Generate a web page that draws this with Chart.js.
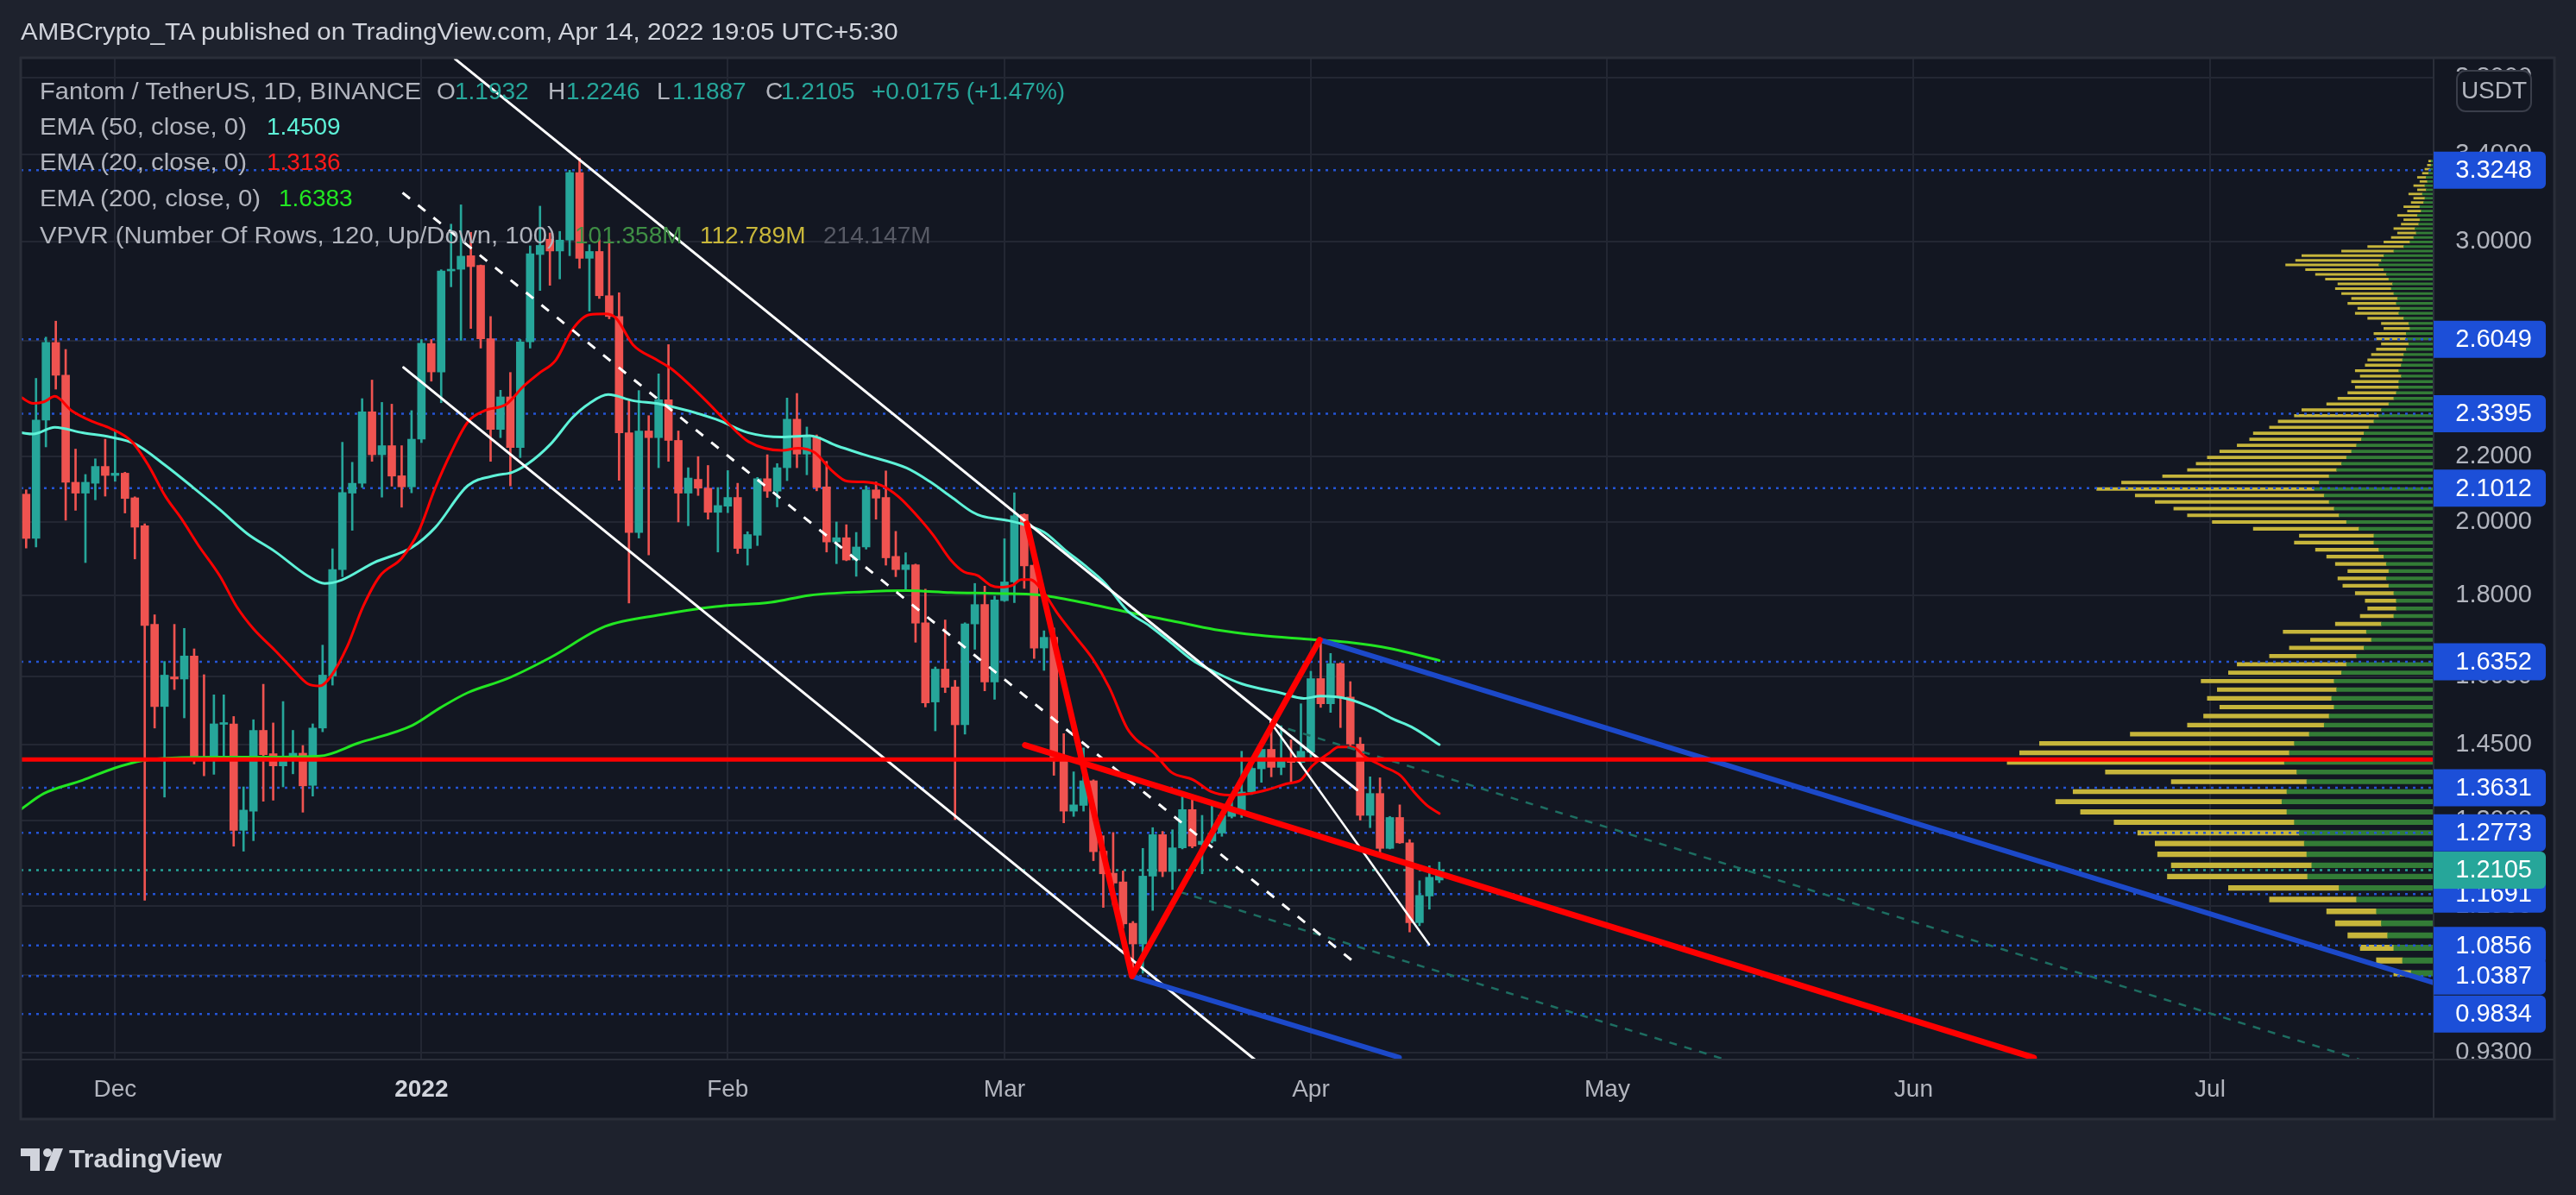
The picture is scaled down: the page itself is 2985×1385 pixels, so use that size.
<!DOCTYPE html>
<html>
<head>
<meta charset="utf-8">
<script src="https://cdn.jsdelivr.net/npm/chart.js@4.4.1/dist/chart.umd.min.js"></script>
<style>
html, body { margin: 0; padding: 0; background: #1e222d; }
#wrap { position: relative; width: 2985px; height: 1385px; overflow: hidden; font-family: "Liberation Sans", Arial, sans-serif; }
#wrap canvas { position: absolute; left: 0; top: 0; }
.t { position: absolute; white-space: nowrap; line-height: 36px; height: 36px; font-size: 28px; color: #b2b5be; transform-origin: left center; z-index: 2; }
</style>
</head>
<body>
<div id="wrap">
<canvas id="c" width="2985" height="1385"></canvas>

<div class="t" style="left:24px;top:19px;font-size:27px;color:#d1d4dc" data-w="1017">AMBCrypto_TA published on TradingView.com, Apr 14, 2022 19:05 UTC+5:30</div>

<div class="t" style="left:46px;top:88px" data-w="442">Fantom / TetherUS, 1D, BINANCE</div>
<div class="t" style="left:506px;top:88px">O</div>
<div class="t" style="left:527px;top:88px;color:#26a69a">1.1932</div>
<div class="t" style="left:635px;top:88px">H</div>
<div class="t" style="left:656px;top:88px;color:#26a69a">1.2246</div>
<div class="t" style="left:761px;top:88px">L</div>
<div class="t" style="left:779px;top:88px;color:#26a69a">1.1887</div>
<div class="t" style="left:887px;top:88px">C</div>
<div class="t" style="left:905px;top:88px;color:#26a69a">1.2105</div>
<div class="t" style="left:1010px;top:88px;color:#26a69a">+0.0175 (+1.47%)</div>

<div class="t" style="left:46px;top:129px" data-w="240">EMA (50, close, 0)</div>
<div class="t" style="left:309px;top:129px;color:#5ef2d8">1.4509</div>
<div class="t" style="left:46px;top:170px" data-w="240">EMA (20, close, 0)</div>
<div class="t" style="left:309px;top:170px;color:#ff1a1a">1.3136</div>
<div class="t" style="left:46px;top:212px" data-w="256">EMA (200, close, 0)</div>
<div class="t" style="left:323px;top:212px;color:#22e622">1.6383</div>
<div class="t" style="left:46px;top:255px" data-w="598">VPVR (Number Of Rows, 120, Up/Down, 100)</div>
<div class="t" style="left:666px;top:255px;color:#3f8f45">101.358M</div>
<div class="t" style="left:811px;top:255px;color:#c9b73a">112.789M</div>
<div class="t" style="left:954px;top:255px;color:#575a65">214.147M</div>

<div class="t" style="left:80px;top:1325px;font-size:30px;font-weight:bold;color:#d1d4dc" data-w="177">TradingView</div>
</div>

<script>
// day 0 = Dec 1, 2021; first candle is Nov 22, 2021
const firstDay = -9

const opens = [2.083,1.954,2.318,2.593,2.473,2.119,2.086,2.116,2.168,2.140,
  2.147,2.072,1.990,1.726,1.533,1.600,1.595,1.649,1.422,1.418,
  1.494,1.495,1.282,1.318,1.481,1.432,1.407,1.424,1.433,1.368,
  1.486,1.602,1.868,2.086,2.116,2.346,2.205,2.234,2.139,2.105,
  2.255,2.589,2.485,2.875,2.882,2.939,2.898,2.607,2.287,2.397,
  2.228,2.595,2.944,3.010,2.959,3.006,3.314,2.928,2.957,2.774,
  2.692,2.276,1.971,2.282,2.260,2.387,2.251,2.086,2.128,2.101,
  2.029,2.047,2.073,1.926,1.963,2.130,2.092,2.164,2.321,2.207,
  2.262,2.105,1.944,1.956,1.894,1.930,2.096,2.073,1.904,1.868,
  1.881,1.730,1.543,1.618,1.577,1.493,1.727,1.776,1.588,1.786,
  1.835,2.023,1.880,1.668,1.694,1.418,1.318,1.329,1.377,1.244,
  1.205,1.190,1.121,1.088,1.200,1.274,1.208,1.250,1.321,1.256,
  1.262,1.277,1.308,1.320,1.355,1.401,1.441,1.404,1.420,1.414,
  1.435,1.596,1.539,1.631,1.554,1.452,1.310,1.352,1.249,1.306,
  1.259,1.122,1.166,1.1932]
const highs = [2.096,2.462,2.613,2.674,2.567,2.223,2.143,2.192,2.255,2.284,
  2.150,2.075,1.996,1.750,1.636,1.726,1.716,1.666,1.605,1.559,
  1.559,1.511,1.365,1.504,1.583,1.497,1.544,1.481,1.449,1.495,
  1.675,1.925,2.245,2.181,2.391,2.456,2.378,2.372,2.234,2.350,
  2.604,2.604,2.880,3.076,3.163,3.040,2.900,2.692,2.420,2.483,
  2.604,2.981,3.157,3.037,3.044,3.325,3.384,2.986,3.008,3.008,
  2.786,2.389,2.419,2.333,2.478,2.585,2.282,2.164,2.199,2.171,
  2.103,2.155,2.116,1.973,2.134,2.205,2.177,2.393,2.409,2.295,
  2.269,2.184,2.001,1.993,1.971,2.108,2.120,2.154,1.974,1.914,
  1.883,1.816,1.623,1.737,1.592,1.730,1.831,1.824,1.798,1.953,
  2.087,2.025,1.882,1.710,1.717,1.474,1.395,1.444,1.379,1.272,
  1.278,1.209,1.124,1.249,1.287,1.280,1.283,1.348,1.348,1.310,
  1.332,1.316,1.352,1.437,1.414,1.441,1.494,1.491,1.461,1.539,
  1.613,1.682,1.655,1.633,1.589,1.466,1.385,1.383,1.308,1.330,
  1.265,1.192,1.218,1.2246]
const lows = [1.927,1.930,2.230,2.424,2.006,2.035,1.887,2.066,2.077,2.122,
  2.027,1.897,1.159,1.486,1.345,1.571,1.508,1.411,1.387,1.390,
  1.418,1.253,1.244,1.263,1.337,1.339,1.365,1.391,1.316,1.347,
  1.478,1.581,1.849,1.977,2.103,2.184,2.074,2.107,2.044,2.087,
  2.244,2.452,2.377,2.810,2.601,2.646,2.572,2.184,2.260,2.108,
  2.196,2.572,2.795,2.816,2.842,2.939,2.886,2.713,2.763,2.683,
  2.125,1.780,1.955,1.908,2.164,2.184,2.001,1.990,2.079,2.009,
  1.916,2.028,1.912,1.880,1.934,2.073,2.045,2.124,2.164,2.142,
  2.093,1.916,1.884,1.892,1.850,1.924,2.009,1.880,1.849,1.816,
  1.682,1.532,1.480,1.564,1.302,1.473,1.665,1.568,1.549,1.784,
  1.781,1.818,1.643,1.615,1.388,1.296,1.308,1.318,1.227,1.147,
  1.151,1.113,1.038,1.043,1.142,1.199,1.177,1.248,1.250,1.204,
  1.259,1.271,1.305,1.306,1.350,1.374,1.385,1.389,1.372,1.410,
  1.421,1.531,1.520,1.487,1.446,1.301,1.287,1.240,1.248,1.258,
  1.107,1.117,1.144,1.1887]
const closes = [1.954,2.318,2.593,2.473,2.119,2.086,2.119,2.168,2.140,2.147,
  2.070,1.986,1.723,1.533,1.604,1.595,1.649,1.420,1.418,1.495,
  1.497,1.282,1.320,1.481,1.430,1.407,1.427,1.433,1.367,1.486,
  1.604,1.868,2.088,2.116,2.346,2.205,2.234,2.138,2.105,2.255,
  2.590,2.485,2.875,2.880,2.937,2.893,2.607,2.287,2.397,2.228,
  2.595,2.947,2.983,2.959,3.006,3.314,2.928,2.957,2.774,2.692,
  2.276,1.971,2.282,2.260,2.387,2.251,2.086,2.132,2.101,2.029,
  2.049,2.073,1.926,1.965,2.130,2.092,2.164,2.321,2.207,2.262,
  2.103,1.944,1.956,1.894,1.930,2.096,2.071,1.900,1.868,1.881,
  1.729,1.541,1.618,1.576,1.493,1.727,1.776,1.588,1.788,1.835,
  2.019,1.878,1.668,1.694,1.417,1.318,1.330,1.377,1.243,1.204,
  1.188,1.120,1.088,1.200,1.274,1.208,1.250,1.321,1.253,1.262,
  1.277,1.310,1.321,1.355,1.402,1.441,1.404,1.420,1.414,1.437,
  1.596,1.539,1.631,1.554,1.452,1.310,1.352,1.249,1.306,1.259,
  1.122,1.167,1.198,1.2105]

// EMA readings [day, value]
const ema20 = [[-9.5,2.395],[-8.3,2.375],[-7.2,2.38],[-6.1,2.399],[-4.4,2.35],[-2.2,2.312],[-0.5,2.291],[1.7,2.247],[3.4,2.17],[5.1,2.076],[6.7,2.011],[8.4,1.936],[10.6,1.851],[12.3,1.771],[14,1.715],[16.2,1.662],[17.9,1.62],[19.5,1.584],[20.7,1.579],[21.8,1.6],[23.5,1.672],[25.1,1.771],[26.8,1.851],[29,1.899],[30.7,1.973],[32.4,2.102],[34,2.212],[35.7,2.312],[37.4,2.35],[39.6,2.372],[41.3,2.433],[42.9,2.48],[44.6,2.528],[46.3,2.643],[48,2.699],[49.6,2.702],[50.7,2.685],[52.4,2.585],[54.7,2.531],[56.3,2.496],[59.7,2.387],[61.9,2.312],[64.1,2.247],[67.5,2.219],[69.1,2.226],[70.8,2.212],[72.5,2.156],[74.1,2.122],[75.7,2.12],[77.5,2.11],[79.3,2.075],[81,2.024],[82.8,1.963],[84.6,1.893],[85.9,1.862],[87.3,1.852],[88.6,1.826],[89.5,1.821],[90.8,1.826],[91.7,1.841],[92.6,1.841],[94,1.806],[95.3,1.756],[97.1,1.698],[98.9,1.643],[100.6,1.576],[102.4,1.486],[103.3,1.462],[105.1,1.434],[106.9,1.394],[109.1,1.379],[110.9,1.356],[112.7,1.349],[114.9,1.352],[116.7,1.36],[118.5,1.371],[120,1.379],[121.1,1.406],[122.9,1.434],[123.8,1.446],[125.2,1.446],[126.5,1.426],[128.3,1.406],[130.1,1.387],[131.4,1.356],[132.7,1.33],[134,1.3136]]
const ema50 = [[-9.5,2.276],[-8.3,2.272],[-6.1,2.294],[-3.3,2.276],[-0.5,2.262],[2,2.24],[5.1,2.171],[7.9,2.103],[10.6,2.037],[13.4,1.967],[16.2,1.917],[19.5,1.851],[21.2,1.831],[22.9,1.84],[26.2,1.887],[30.1,1.93],[32.4,1.985],[35.7,2.109],[38.5,2.14],[40.2,2.15],[41.8,2.177],[44.1,2.24],[46.3,2.327],[48,2.375],[49.9,2.405],[52.4,2.384],[55.2,2.372],[60.8,2.321],[64.1,2.276],[67.5,2.262],[70.3,2.266],[73,2.234],[75.7,2.206],[80.1,2.163],[82.4,2.122],[84.6,2.075],[86.8,2.029],[87.7,2.018],[90.4,2.005],[91.7,1.996],[94,1.972],[96.2,1.92],[98,1.882],[100.2,1.831],[102.4,1.761],[104.7,1.722],[106.9,1.68],[109.1,1.638],[111.3,1.611],[114,1.584],[118,1.563],[120.3,1.551],[122,1.556],[124.7,1.55],[127.4,1.528],[129.2,1.507],[131.4,1.486],[134,1.4509]]
const ema200 = [[-9.5,1.322],[-7.2,1.352],[-3.3,1.378],[0,1.403],[2.8,1.418],[6.7,1.424],[10.6,1.425],[16.2,1.425],[20.7,1.427],[24.6,1.454],[30.1,1.492],[32.9,1.53],[35.7,1.564],[39.6,1.595],[44.1,1.646],[49.6,1.721],[55.2,1.75],[60.8,1.771],[66.4,1.782],[70.3,1.8],[75.7,1.809],[80.1,1.812],[84.6,1.807],[89.1,1.805],[93.5,1.801],[98,1.781],[102.4,1.757],[106.9,1.735],[111.3,1.713],[115.8,1.699],[120.3,1.69],[124.7,1.682],[129.2,1.666],[134,1.6383]]

// drawings [day, price]
const channelTop = [[34.41,3.904],[125.68,1.359]]
const channelMid = [[29.09,3.219],[125.18,1.0623]]
const channelLow = [[29.19,2.501],[119.69,0.8754]]
const innerLine = [[116.92,1.499],[132.98,1.087]]
const zigzag = [[92.26,1.997],[102.9,1.0384],[121.9,1.6877]]
const redSlope = [[92.08,1.4498],[194.17,0.9232]]
const blueTop = [[121.9,1.6877],[234.62,1.0289]]
const blueLow = [[102.9,1.0384],[129.95,0.9236]]
const tealUpper = [[117.2,1.494],[227.1,0.921]]
const tealLower = [[107.7,1.173],[162.9,0.921]]
const supportLevel = 1.42

const levels = [3.3248,2.6049,2.3395,2.1012,1.6352,1.3631,1.2773,1.1691,1.0856,1.0387,0.9834]
const lastPrice = 1.2105

// axes
const monthDays = [0,31,62,90,121,151,182,212]
const monthLabels = ['Dec','2022','Feb','Mar','Apr','May','Jun','Jul']
const priceTicks = [0.93,1.04,1.15,1.3,1.45,1.6,1.8,2,2.2,2.6,3,3.4,3.8]

// volume profile, 120 rows from low to high (millions)
const vpLow = 1.038
const vpHigh = 3.384
const vpTotal = [32,46,59,69,79,86,132,165,214.147,211,
  222,224,238,257,284,304,290,211,264,343,
  333,317,244,198,185,172,182,174,187,165,
  158,132,116,99,121,79,59,53,55,63,
  73,77,69,79,86,95,112,108,145,178,
  198,209,224,240,271,251,218,198,191,182,
  172,158,148,145,132,125,112,106,86,77,
  69,63,66,59,63,55,53,50,46,42,
  46,48,40,42,53,63,61,69,66,74,
  79,77,87,95,103,119,111,106,74,53,
  40,34,29,32,26,24,29,21,24,18,
  16,20,13,16,11,13,9,7,5,4]
const vpUp = [18,25,32,37,42,46,62,76,101.358,98,
  102,104,108,112,118,122,118,102,110,120,
  116,112,100,88,84,80,82,78,80,74,
  70,62,56,50,54,42,32,30,30,32,
  36,38,36,38,40,44,48,48,60,70,
  76,80,84,88,96,92,84,78,74,70,
  66,62,58,56,52,48,44,42,36,32,
  30,28,28,26,28,26,25,24,22,20,
  22,22,19,20,24,28,27,30,29,32,
  34,33,36,38,40,44,42,40,32,24,
  19,16,14,15,12,11,13,10,11,8,
  7,9,6,7,5,6,4,3,2,2]

const xMin = -9.55
const xMax = 234.62
const yMin = 0.9208
const yMax = 3.911
const vpMax = 1941

const upColor = '#26a69a'
const downColor = '#ef5350'
const levelBlue = '#2455d6'
const badgeBlue = '#1c4fd8'
const font = '"Liberation Sans", Arial, sans-serif'

const days = opens.map((_, i) => firstDay + i)
const candleColors = closes.map((c, i) => c >= opens[i] ? upColor : downColor)
const vpStep = (vpHigh - vpLow) / vpTotal.length
const vpRows = vpTotal.map((_, i) => vpLow + (i + 0.5) * vpStep)
const vpDown = vpTotal.map((t, i) => t - vpUp[i])

function seg(points, color, width, dash, order, smooth) {
  return {
    type: 'line',
    data: points.map(p => ({ x: p[0], y: p[1] })),
    borderColor: color,
    borderWidth: width,
    borderDash: dash || [],
    borderCapStyle: dash ? 'butt' : 'round',
    borderJoinStyle: 'round',
    pointRadius: 0,
    fill: false,
    cubicInterpolationMode: smooth ? 'monotone' : 'default',
    tension: 0,
    order: order,
    xAxisID: 'x',
    yAxisID: 'y'
  }
}

const datasets = [
  // drawings
  seg(zigzag, '#ff0000', 7, null, 1),
  seg(redSlope, '#ff0000', 7, null, 1),
  seg([[xMin, supportLevel], [xMax, supportLevel]], '#ff0000', 5, null, 1),
  seg(blueTop, '#1c49c9', 6, null, 2),
  seg(blueLow, '#1c49c9', 6, null, 2),
  seg(channelTop, '#ffffff', 3, null, 2),
  seg(channelLow, '#ffffff', 3, null, 2),
  seg(innerLine, '#ffffff', 2.5, null, 2),
  seg(channelMid, '#ffffff', 3, [11, 12], 2),
  seg(tealUpper, '#1d6d61', 2.5, [9, 9], 3),
  seg(tealLower, '#1d6d61', 2.5, [9, 9], 3),
  // EMAs
  seg(ema20, '#ff0000', 3, null, 4, true),
  seg(ema50, '#5ef2d8', 3, null, 4, true),
  seg(ema200, '#22e622', 3, null, 4, true),
  // candles
  {
    type: 'bar',
    data: days.map((d, i) => ({ x: d, y: [opens[i], closes[i]] })),
    backgroundColor: candleColors,
    barThickness: 9,
    minBarLength: 2,
    grouped: false,
    order: 6,
    xAxisID: 'x',
    yAxisID: 'y'
  },
  {
    type: 'bar',
    data: days.map((d, i) => ({ x: d, y: [lows[i], highs[i]] })),
    backgroundColor: candleColors,
    barThickness: 2,
    grouped: false,
    order: 7,
    xAxisID: 'x',
    yAxisID: 'y'
  }
]

// horizontal levels
levels.forEach(v => datasets.push(seg([[xMin, v], [xMax, v]], levelBlue, 2.5, [3, 6], 8)))
datasets.push(seg([[xMin, lastPrice], [xMax, lastPrice]], '#26a69a', 2.5, [3, 6], 8))

// volume profile: up volume next to the axis, down volume stacked beyond it
datasets.push({
  type: 'bar',
  indexAxis: 'y',
  data: vpRows.map((p, i) => ({ x: vpUp[i], y: p })),
  backgroundColor: '#337c36',
  barThickness: 'flex',
  categoryPercentage: 1,
  barPercentage: 0.87,
  stack: 'vp',
  order: 10,
  xAxisID: 'xv',
  yAxisID: 'y'
})
datasets.push({
  type: 'bar',
  indexAxis: 'y',
  data: vpRows.map((p, i) => ({ x: vpDown[i], y: p })),
  backgroundColor: '#c6b53b',
  barThickness: 'flex',
  categoryPercentage: 1,
  barPercentage: 0.87,
  stack: 'vp',
  order: 11,
  xAxisID: 'xv',
  yAxisID: 'y'
})

const panel = { left: 24, top: 67, right: 2960, bottom: 1297, axisX: 2820, axisY: 1228 }

const backdrop = {
  id: 'backdrop',
  beforeDraw(chart) {
    const ctx = chart.ctx
    ctx.save()
    ctx.fillStyle = '#1e222d'
    ctx.fillRect(0, 0, chart.width, chart.height)
    ctx.fillStyle = '#131722'
    ctx.fillRect(panel.left, panel.top, panel.right - panel.left, panel.bottom - panel.top)
    ctx.restore()
  }
}

function badge(ctx, y, text, color) {
  const x0 = 2820, x1 = 2950, h = 43
  ctx.fillStyle = color
  ctx.beginPath()
  if (ctx.roundRect) ctx.roundRect(x0, y - h / 2, x1 - x0, h, [0, 6, 6, 0])
  else ctx.rect(x0, y - h / 2, x1 - x0, h)
  ctx.fill()
  ctx.fillStyle = '#ffffff'
  ctx.font = '29px ' + font
  ctx.textAlign = 'right'
  ctx.textBaseline = 'middle'
  ctx.fillText(text, 2934, y + 1)
}

const overlay = {
  id: 'overlay',
  afterDraw(chart) {
    const ctx = chart.ctx
    const y = chart.scales.y
    ctx.save()
    // separators and frame
    ctx.strokeStyle = '#2a2e39'
    ctx.lineWidth = 2
    ctx.beginPath()
    ctx.moveTo(panel.axisX, panel.top); ctx.lineTo(panel.axisX, panel.bottom)
    ctx.moveTo(panel.left, panel.axisY); ctx.lineTo(panel.right, panel.axisY)
    ctx.stroke()
    ctx.lineWidth = 3
    ctx.strokeRect(panel.left, panel.top, panel.right - panel.left, panel.bottom - panel.top)

    // price badges
    levels.forEach(v => badge(ctx, y.getPixelForValue(v), v.toFixed(4), badgeBlue))
    badge(ctx, y.getPixelForValue(lastPrice), lastPrice.toFixed(4), '#26a69a')

    // currency box
    ctx.fillStyle = '#131722'
    ctx.strokeStyle = '#3a3e4a'
    ctx.lineWidth = 2
    ctx.beginPath()
    if (ctx.roundRect) ctx.roundRect(2847, 82, 86, 47, 10)
    else ctx.rect(2847, 82, 86, 47)
    ctx.fill()
    ctx.stroke()
    ctx.fillStyle = '#b2b5be'
    ctx.font = '28px ' + font
    ctx.textAlign = 'center'
    ctx.textBaseline = 'middle'
    ctx.fillText('USDT', 2890, 106)

    // logo mark
    ctx.fillStyle = '#d1d4dc'
    ctx.fillRect(24, 1331, 22, 9)
    ctx.fillRect(35, 1331, 11, 26)
    ctx.beginPath()
    ctx.arc(55, 1336, 5, 0, Math.PI * 2)
    ctx.fill()
    ctx.beginPath()
    ctx.moveTo(62, 1331); ctx.lineTo(73, 1331); ctx.lineTo(63, 1357); ctx.lineTo(52, 1357)
    ctx.closePath()
    ctx.fill()
    ctx.restore()
  }
}

new Chart(document.getElementById('c'), {
  type: 'line',
  data: { datasets },
  options: {
    responsive: false,
    devicePixelRatio: 1,
    animation: false,
    events: [],
    layout: { padding: { left: 24, top: 67, right: 51, bottom: 88 } },
    plugins: { legend: { display: false }, tooltip: { enabled: false } },
    scales: {
      x: {
        type: 'linear',
        offset: false,
        min: xMin,
        max: xMax,
        afterBuildTicks: s => { s.ticks = monthDays.map(v => ({ value: v })) },
        afterFit: s => { s.height = 69 },
        grid: { color: '#232733', lineWidth: 2, drawTicks: false, offset: false },
        border: { display: false },
        ticks: {
          autoSkip: false,
          maxRotation: 0,
          padding: 18,
          color: c => (c.tick && c.tick.value === 31) ? '#d1d4dc' : '#b2b5be',
          font: c => ({ family: font, size: 28, weight: (c.tick && c.tick.value === 31) ? 'bold' : 'normal' }),
          callback: v => monthLabels[monthDays.indexOf(v)]
        }
      },
      y: {
        type: 'logarithmic',
        position: 'right',
        offset: false,
        min: yMin,
        max: yMax,
        afterBuildTicks: s => { s.ticks = priceTicks.map(v => ({ value: v })) },
        afterFit: s => { s.width = 114 },
        grid: { color: '#232733', lineWidth: 2, drawTicks: false, offset: false },
        border: { display: false },
        ticks: {
          autoSkip: false,
          crossAlign: 'far',
          padding: 0,
          color: '#b2b5be',
          font: { family: font, size: 29 },
          callback: v => Number(v).toFixed(4)
        }
      },
      xv: {
        type: 'linear',
        display: false,
        reverse: true,
        stacked: true,
        offset: false,
        min: 0,
        max: vpMax
      }
    }
  },
  plugins: [backdrop, overlay]
})

// stretch text to the widths measured on the reference
document.querySelectorAll('[data-w]').forEach(el => {
  const w = parseFloat(el.dataset.w)
  const a = el.getBoundingClientRect().width
  if (a > 0) el.style.transform = 'scaleX(' + (w / a).toFixed(3) + ')'
})
</script>
</body>
</html>
